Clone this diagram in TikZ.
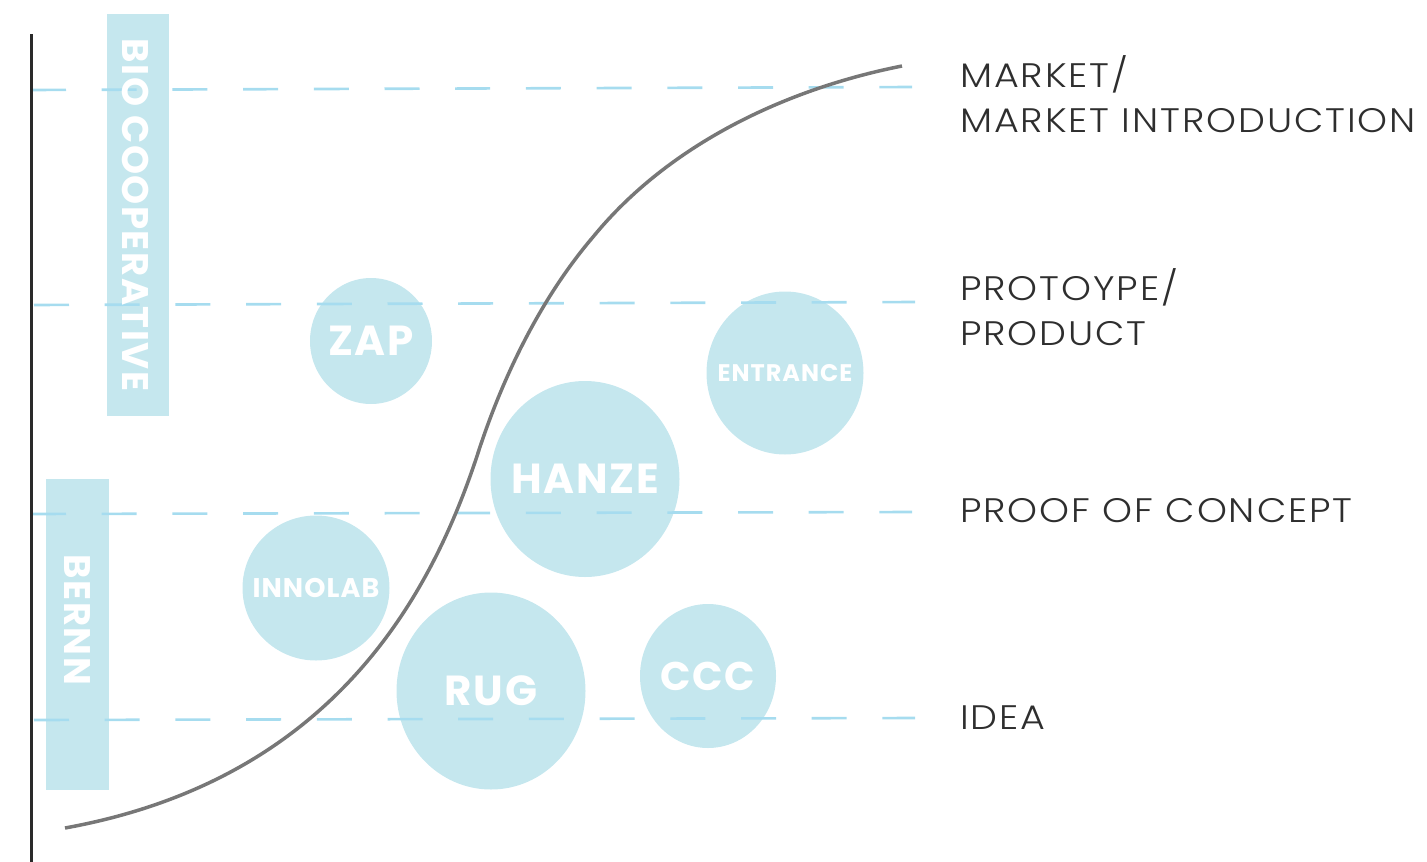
\documentclass[tikz,border=0pt]{standalone}
\usepackage{fontspec}
\setmainfont{Poppins}
\newfontfamily\lightf{Poppins}[UprightFont=* Light, LetterSpace=5]
\newfontfamily\heavyf{Poppins}[UprightFont=* Bold, LetterSpace=4]
\usetikzlibrary{shapes.geometric}
\definecolor{blobfill}{HTML}{C5E7EE}
\definecolor{dashblue}{HTML}{A6DCEF}
\definecolor{curvegray}{HTML}{777777}
\definecolor{axisdark}{HTML}{2A2A2A}
\definecolor{labeldark}{HTML}{2E2E2E}
\newcommand{\widetxt}[1]{\scalebox{1.12}[1]{#1}}
\tikzset{
  blob/.style={ellipse, fill=blobfill, draw=none, inner sep=0pt},
  blobtext/.style={text=white, inner sep=0pt},
  band/.style={rectangle, fill=blobfill, draw=none, inner sep=0pt},
  bandtext/.style={rotate=-90, text=white, inner sep=0pt, font=\heavyf\fontsize{37}{37}\selectfont},
  level/.style={draw=dashblue, line width=2.6pt, dash pattern=on 35pt off 35.7pt},
  stagelabel/.style={anchor=base west, inner sep=0pt, text=labeldark, align=left,
    font=\lightf\fontsize{34}{45}\selectfont},
}
\begin{document}
\begin{tikzpicture}[x=1pt,y=-1pt]
\useasboundingbox (0,0) rectangle (1427,862);
% bands
\node[band, minimum width=62pt, minimum height=402pt] (bio) at (138,215) {};
\node[band, minimum width=63pt, minimum height=311pt] (bern) at (77.5,634.5) {};
% blobs
\node[blob, minimum width=122pt, minimum height=126pt,
  label={[blobtext, font=\heavyf\fontsize{42}{42}\selectfont]center:ZAP}] (zap) at (371,341) {};
\node[blob, minimum width=189pt, minimum height=196pt,
  label={[blobtext, font=\heavyf\fontsize{42}{42}\selectfont]center:HANZE}] (hanze) at (585,479) {};
\node[blob, minimum width=189pt, minimum height=197pt,
  label={[blobtext, font=\heavyf\fontsize{42}{42}\selectfont]center:RUG}] (rug) at (491,691) {};
\node[blob, minimum width=136pt, minimum height=144pt,
  label={[blobtext, font=\heavyf\fontsize{40}{40}\selectfont]center:CCC}] (ccc) at (708,676) {};
\node[blob, minimum width=157pt, minimum height=163pt,
  label={[blobtext, font=\heavyf\fontsize{24}{24}\selectfont]center:ENTRANCE}] (entr) at (785,373) {};
\node[blob, minimum width=147pt, minimum height=145pt,
  label={[blobtext, font=\heavyf\fontsize{27}{27}\selectfont]center:INNOLAB}] (inno) at (316,588) {};
% dashed levels
\coordinate (l1a) at (31,90);  \coordinate (l1b) at (912,87);
\coordinate (l2a) at (34,305); \coordinate (l2b) at (915,302);
\coordinate (l3a) at (31,514); \coordinate (l3b) at (912,512);
\coordinate (l4a) at (34,720); \coordinate (l4b) at (915,718);
\draw[level] (l1a) -- (l1b);
\draw[level] (l2a) -- (l2b);
\draw[level] (l3a) -- (l3b);
\draw[level] (l4a) -- (l4b);
% axis
\coordinate (axtop) at (31,34); \coordinate (axbot) at (31,862);
\draw[axisdark, line width=3pt] (axtop) -- (axbot);
% S-curve
\coordinate (cs) at (65,828); \coordinate (cm) at (478,453);
\coordinate (cq) at (593,237); \coordinate (ce) at (902,66);
\draw[curvegray, line width=3.5pt]
  (cs) .. controls (330,780) and (430,600) .. (cm)
       .. controls (503,376) and (541,298) .. (cq)
       .. controls (669,144) and (786,89) .. (ce);
% band texts
\node[bandtext] (biot) at (136,215) {BIO COOPERATIVE};
\node[bandtext] (bernt) at (77,620) {BERNN};
% stage labels
\node[stagelabel] (market) at (960,132) {\widetxt{MARKET/}\\\widetxt{MARKET INTRODUCTION}};
\node[stagelabel] (proto) at (960,345) {\widetxt{PROTOYPE/}\\\widetxt{PRODUCT}};
\node[stagelabel] (proof) at (960,522) {\widetxt{PROOF OF CONCEPT}};
\node[stagelabel] (idea) at (960,729) {\widetxt{IDEA}};
\end{tikzpicture}
\end{document}
